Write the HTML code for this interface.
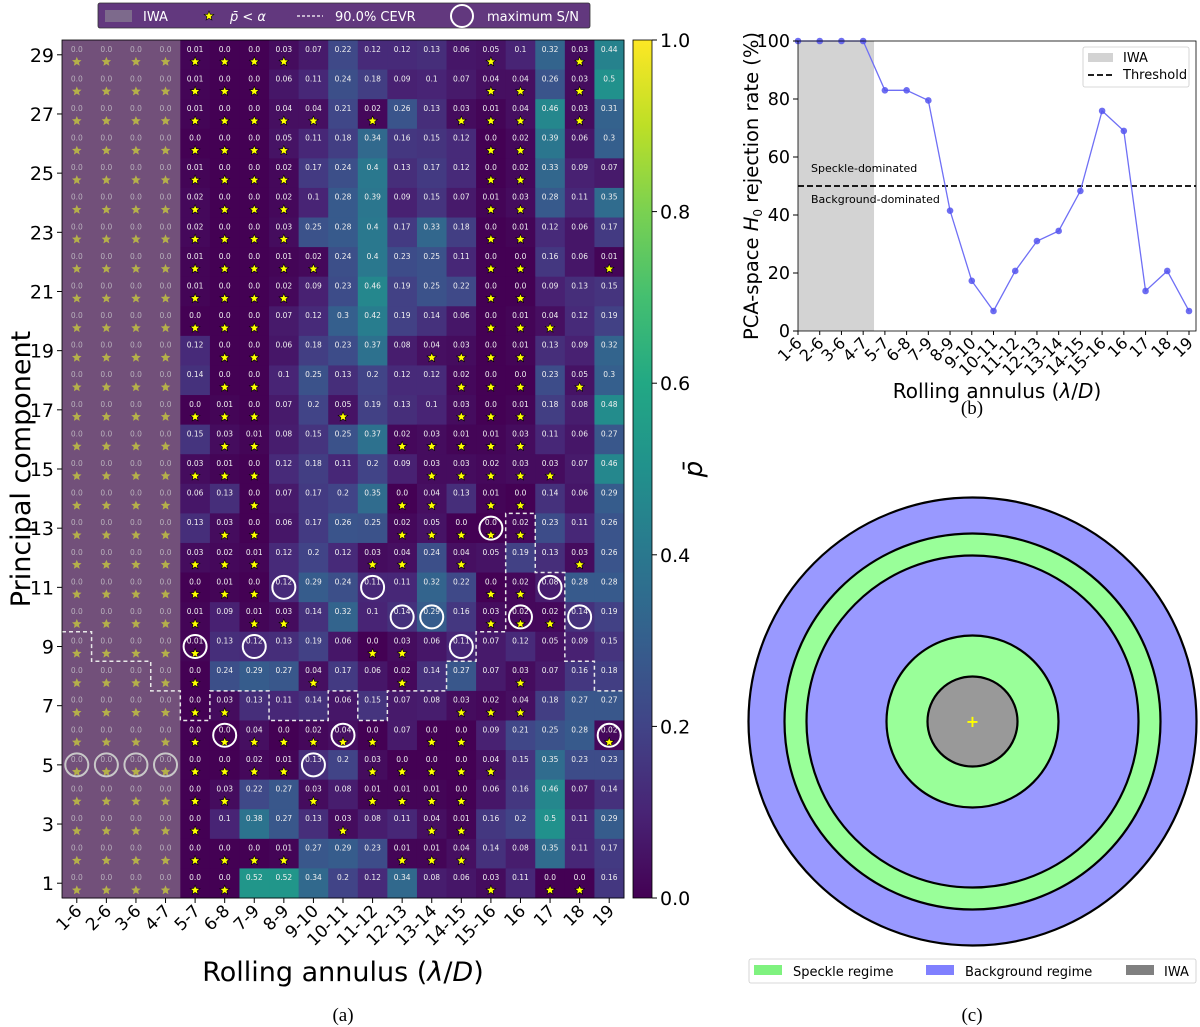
<!DOCTYPE html>
<html><head><meta charset="utf-8"><style>
body{margin:0;background:#fff;}
svg{display:block;font-family:"DejaVu Sans","Liberation Sans",sans-serif;}
</style></head><body>
<svg id="fig" width="1200" height="1027" viewBox="0 0 1200 1027" xmlns="http://www.w3.org/2000/svg"></svg>
<script>
// ---------- Data: heatmap (a) ----------
const colLabels = ["1-6","2-6","3-6","4-7","5-7","6-8","7-9","8-9","9-10","10-11","11-12","12-13","13-14","14-15","15-16","16","17","18","19"];
const rowLabels = [29,28,27,26,25,24,23,22,21,20,19,18,17,16,15,14,13,12,11,10,9,8,7,6,5,4,3,2,1];
const iwaCols = 4;
// values for columns 5-7 .. 19 (rows 29 -> 1); IWA columns are 0.0
const pValues = [
[0.01,0.0,0.0,0.03,0.07,0.22,0.12,0.12,0.13,0.06,0.05,0.1,0.32,0.03,0.44],
[0.01,0.0,0.0,0.06,0.11,0.24,0.18,0.09,0.1,0.07,0.04,0.04,0.26,0.03,0.5],
[0.01,0.0,0.0,0.04,0.04,0.21,0.02,0.26,0.13,0.03,0.01,0.04,0.46,0.03,0.31],
[0.0,0.0,0.0,0.05,0.11,0.18,0.34,0.16,0.15,0.12,0.0,0.02,0.39,0.06,0.3],
[0.01,0.0,0.0,0.02,0.17,0.24,0.4,0.13,0.17,0.12,0.0,0.02,0.33,0.09,0.07],
[0.02,0.0,0.0,0.02,0.1,0.28,0.39,0.09,0.15,0.07,0.01,0.03,0.28,0.11,0.35],
[0.02,0.0,0.0,0.03,0.25,0.28,0.4,0.17,0.33,0.18,0.0,0.01,0.12,0.06,0.17],
[0.01,0.0,0.0,0.01,0.02,0.24,0.4,0.23,0.25,0.11,0.0,0.0,0.16,0.06,0.01],
[0.01,0.0,0.0,0.02,0.09,0.23,0.46,0.19,0.25,0.22,0.0,0.0,0.09,0.13,0.15],
[0.0,0.0,0.0,0.07,0.12,0.3,0.42,0.19,0.14,0.06,0.0,0.01,0.04,0.12,0.19],
[0.12,0.0,0.0,0.06,0.18,0.23,0.37,0.08,0.04,0.03,0.0,0.01,0.13,0.09,0.32],
[0.14,0.0,0.0,0.1,0.25,0.13,0.2,0.12,0.12,0.02,0.0,0.0,0.23,0.05,0.3],
[0.0,0.01,0.0,0.07,0.2,0.05,0.19,0.13,0.1,0.03,0.0,0.01,0.18,0.08,0.48],
[0.15,0.03,0.01,0.08,0.15,0.25,0.37,0.02,0.03,0.01,0.01,0.03,0.11,0.06,0.27],
[0.03,0.01,0.0,0.12,0.18,0.11,0.2,0.09,0.03,0.03,0.02,0.03,0.03,0.07,0.46],
[0.06,0.13,0.0,0.07,0.17,0.2,0.35,0.0,0.04,0.13,0.01,0.0,0.14,0.06,0.29],
[0.13,0.03,0.0,0.06,0.17,0.26,0.25,0.02,0.05,0.0,0.0,0.02,0.23,0.11,0.26],
[0.03,0.02,0.01,0.12,0.2,0.12,0.03,0.04,0.24,0.04,0.05,0.19,0.13,0.03,0.26],
[0.0,0.01,0.0,0.12,0.29,0.24,0.11,0.11,0.32,0.22,0.0,0.02,0.08,0.28,0.28],
[0.01,0.09,0.01,0.03,0.14,0.32,0.1,0.14,0.29,0.16,0.03,0.02,0.02,0.14,0.19],
[0.01,0.13,0.12,0.13,0.19,0.06,0.0,0.03,0.06,0.11,0.07,0.12,0.05,0.09,0.15],
[0.0,0.24,0.29,0.27,0.04,0.17,0.06,0.02,0.14,0.27,0.07,0.03,0.07,0.16,0.18],
[0.0,0.03,0.13,0.11,0.14,0.06,0.15,0.07,0.08,0.03,0.02,0.04,0.18,0.27,0.27],
[0.0,0.0,0.04,0.0,0.02,0.04,0.0,0.07,0.0,0.0,0.09,0.21,0.25,0.28,0.02],
[0.0,0.0,0.02,0.01,0.13,0.2,0.03,0.0,0.0,0.0,0.04,0.15,0.35,0.23,0.23],
[0.0,0.03,0.22,0.27,0.03,0.08,0.01,0.01,0.01,0.0,0.06,0.16,0.46,0.07,0.14],
[0.0,0.1,0.38,0.27,0.13,0.03,0.08,0.11,0.04,0.01,0.16,0.2,0.5,0.11,0.29],
[0.0,0.0,0.0,0.01,0.27,0.29,0.23,0.01,0.01,0.04,0.14,0.08,0.35,0.11,0.17],
[0.0,0.0,0.52,0.52,0.34,0.2,0.12,0.34,0.08,0.06,0.03,0.11,0.0,0.0,0.16]
];
const starThreshold = 0.05;
const noStarCells = [[12,14],[9,16]]; // [PC, column index]
const maxSN = [[13,14],[11,7],[11,10],[11,16],[10,11],[10,12],[10,15],[10,17],[9,4],[9,6],[9,13],[6,5],[6,9],[6,18],[5,8],[5,0],[5,1],[5,2],[5,3]];
// CEVR boundary as [column boundary, PC boundary]
const cevrPath = [[0,9],[1,9],[1,8],[3,8],[3,7],[4,7],[4,6],[5,6],[5,7],[7,7],[7,6],[9,6],[9,7],[10,7],[10,6],[11,6],[11,7],[13,7],[13,8],[14,8],[14,9],[15,9],[15,13],[16,13],[16,11],[17,11],[17,8],[18,8],[18,7],[19,7]];
const cbarTicks = [0,0.2,0.4,0.6,0.8,1.0];

// ---------- Data: panel (b) ----------
const bCats = colLabels;
const bRates = [100,100,100,100,83,83,79.5,41.5,17.3,6.9,20.7,31,34.5,48.3,75.9,69,13.8,20.7,6.9];
const bThreshold = 50;
const bYTicks = [0,20,40,60,80,100];

// ---------- Data: panel (c) ----------
const cRadii = [224,188,166,86,45];
const cFills = ["#9999ff","#99ff99","#9999ff","#99ff99","#999999"];

const NS="http://www.w3.org/2000/svg";
const svg=document.getElementById('fig');
function el(tag,attrs,parent,text){const e=document.createElementNS(NS,tag);for(const k in attrs)e.setAttribute(k,attrs[k]);if(text!==undefined)e.textContent=text;(parent||svg).appendChild(e);return e;}

const vir=["#440154","#482475","#414487","#355f8d","#2a788e","#21918c","#22a884","#44bf70","#7ad151","#bddf26","#fde725"];
function hex(h){return [1,3,5].map(i=>parseInt(h.substr(i,2),16));}
function viridis(v){v=Math.max(0,Math.min(1,v));const t=v*10,i=Math.min(9,Math.floor(t)),f=t-i;const a=hex(vir[i]),b=hex(vir[i+1]);return "rgb("+a.map((x,k)=>Math.round(x+(b[k]-x)*f)).join(",")+")";}

// ---------- Heatmap axes ----------
const HX0=62,HX1=624,HY0=40,HY1=898;
const cw=(HX1-HX0)/19, rh=(HY1-HY0)/29;
function hx(c){return HX0+c*cw;}
function hyB(b){return HY1-b*rh;}
function hyC(pc){return HY1-(pc-0.5)*rh;}
function fmt(v){return (Math.round(v*100)/100).toString().replace(/^(\d)$/,"$1.0");}
function starPath(cx,cy,r){let d="";for(let i=0;i<10;i++){const a=-Math.PI/2+i*Math.PI/5,rr=i%2?r*0.45:r;d+=(i?"L":"M")+(cx+rr*Math.cos(a)).toFixed(1)+","+(cy+rr*Math.sin(a)).toFixed(1);}return d+"Z";}

const gH=el('g',{});


rowLabels.forEach((pc,ri)=>{
  for(let c=0;c<19;c++){
    const v = c<iwaCols?0:pValues[ri][c-iwaCols];
    const r=el('rect',{x:hx(c),y:hyB(pc),width:cw+0.5,height:rh+0.5,fill:viridis(v)},gH);
    
    
  }
});
const iwa=el('rect',{x:HX0,y:HY0,width:cw*iwaCols,height:HY1-HY0,fill:"rgb(160,160,160)","fill-opacity":0.5},gH);


rowLabels.forEach((pc,ri)=>{
  for(let c=0;c<19;c++){
    const v = c<iwaCols?0:pValues[ri][c-iwaCols];
    const cx=hx(c)+cw/2, cy=hyC(pc);
    const inIwa=c<iwaCols;
    const t=el('text',{x:cx,y:cy-3,"text-anchor":"middle","font-size":7.5,fill:inIwa?"#b8b0bc":"#f0f0f0"},gH,fmt(v));
    
    
    const excluded=noStarCells.some(e=>e[0]===pc&&e[1]===c);
    if(v<=starThreshold && !excluded){
      const s=el('path',{d:starPath(cx,cy+7,5),fill:inIwa?"#b5b04a":"#ffff00",stroke:inIwa?"none":"#000","stroke-width":0.6},gH);
      
      
    }
  }
});
maxSN.forEach(m=>{
  const ci=el('circle',{cx:hx(m[1])+cw/2,cy:hyC(m[0]),r:11.5,fill:"none",stroke:m[1]<iwaCols?"#c8c8c8":"#fff","stroke-width":2},gH);
  
  
});
const cevr=el('path',{d:cevrPath.map((p,i)=>(i?"L":"M")+hx(p[0])+","+hyB(p[1])).join(""),fill:"none",stroke:"#e8e8e8","stroke-width":1.5,"stroke-dasharray":"4,3"},gH);


const hframe=el('rect',{x:HX0,y:HY0,width:HX1-HX0,height:HY1-HY0,fill:"none",stroke:"#000","stroke-width":0.8},gH);


rowLabels.forEach(pc=>{
  if(pc%2===1){
    el('line',{x1:HX0-5,x2:HX0,y1:hyC(pc),y2:hyC(pc),stroke:"#000"});
    const t=el('text',{x:HX0-8,y:hyC(pc)+7,"text-anchor":"end","font-size":19},svg,pc);
    
    
  }
});
colLabels.forEach((lab,c)=>{
  const x=hx(c)+cw/2;
  el('line',{x1:x,x2:x,y1:HY1,y2:HY1+5,stroke:"#000"});
  const t=el('text',{x:x+6,y:HY1+14,"text-anchor":"end","font-size":17,transform:"rotate(-45 "+(x+6)+" "+(HY1+14)+")"},svg,lab);
  
  
});
let t=el('text',{x:343,y:981,"text-anchor":"middle","font-size":27},svg);
t.innerHTML='Rolling annulus (<tspan font-style="italic">λ</tspan>/<tspan font-style="italic">D</tspan>)';


t=el('text',{x:0,y:0,"text-anchor":"middle","font-size":27,transform:"translate(30 469) rotate(-90)"},svg,"Principal component");


t=el('text',{x:343,y:1021,"text-anchor":"middle","font-size":19,"font-family":"Liberation Serif, serif"},svg,"(a)");



const lg=el('g',{});


el('rect',{x:98,y:3,width:492,height:25,fill:"#62387e",stroke:"#333","stroke-width":0.8,rx:2},lg);
el('rect',{x:105,y:10,width:27,height:12,fill:"#7d6a8c"},lg);
el('text',{x:143,y:21,"font-size":13,fill:"#fff"},lg,"IWA");
el('path',{d:starPath(209,16,5),fill:"#ff0",stroke:"#000","stroke-width":0.6},lg);
t=el('text',{x:230,y:21,"font-size":13,fill:"#fff","font-style":"italic"},lg);
t.innerHTML='p̄ &lt; α';
el('line',{x1:297,x2:323,y1:16,y2:16,stroke:"#fff","stroke-width":1.2,"stroke-dasharray":"3,2"},lg);
el('text',{x:335,y:21,"font-size":13,fill:"#fff"},lg,"90.0% CEVR");
el('circle',{cx:462,cy:16,r:11,fill:"none",stroke:"#fff","stroke-width":2},lg);
el('text',{x:487,y:21,"font-size":13,fill:"#fff"},lg,"maximum S/N");

const cb=el('g',{});


const defs=el('defs',{});
const grad=el('linearGradient',{id:"vg",x1:0,y1:1,x2:0,y2:0},defs);
vir.forEach((c,i)=>el('stop',{offset:(i/10),"stop-color":c},grad));
const CX0=633,CX1=652;
function cy(v){return HY1-v*(HY1-HY0);}
el('rect',{x:CX0,y:HY0,width:CX1-CX0,height:HY1-HY0,fill:"url(#vg)",stroke:"#000","stroke-width":0.8},cb);
cbarTicks.forEach(v=>{
  el('line',{x1:CX1,x2:CX1+5,y1:cy(v),y2:cy(v),stroke:"#000"},cb);
  const tt=el('text',{x:CX1+8,y:cy(v)+7,"font-size":19},cb,v.toFixed(1));
  
  
});
t=el('text',{x:0,y:0,"text-anchor":"middle","font-size":26,"font-style":"italic",transform:"translate(702 469) rotate(-90)"},svg,"p̄");



// ---------- Panel (b) ----------
const BX0=798,BX1=1196,BY0=41,BY1=331;
const bStep=(1189-798)/18;
function bx(i){return BX0+i*bStep;}
function by(v){return BY1-v/100*(BY1-BY0);}
const gb=el('g',{});


const iwaB=el('rect',{x:bx(0),y:BY0,width:bx(3.5)-bx(0),height:BY1-BY0,fill:"#d3d3d3"},gb);


const thr=el('line',{x1:BX0,x2:BX1,y1:by(bThreshold),y2:by(bThreshold),stroke:"#000","stroke-width":1.8,"stroke-dasharray":"6,3"},gb);


el('text',{x:811,y:172,"font-size":11},gb,"Speckle-dominated");
el('text',{x:811,y:203,"font-size":11},gb,"Background-dominated");
const line=el('polyline',{points:bRates.map((v,i)=>bx(i)+","+by(v)).join(" "),fill:"none",stroke:"#6f6ff5","stroke-width":1.3},gb);


bRates.forEach((v,i)=>{
  const p=el('circle',{cx:bx(i),cy:by(v),r:3.3,fill:"#5555ee","fill-opacity":0.85},gb);
  
  
});
el('rect',{x:BX0,y:BY0,width:BX1-BX0,height:BY1-BY0,fill:"none",stroke:"#000","stroke-width":0.8},gb);
bYTicks.forEach(v=>{
  el('line',{x1:BX0-5,x2:BX0,y1:by(v),y2:by(v),stroke:"#000"},gb);
  const tt=el('text',{x:BX0-8,y:by(v)+6,"text-anchor":"end","font-size":17.5},gb,v);
  
  
});
bCats.forEach((lab,i)=>{
  const x=bx(i);
  el('line',{x1:x,x2:x,y1:BY1,y2:BY1+4,stroke:"#000"},gb);
  const tt=el('text',{x:x+5,y:BY1+13,"text-anchor":"end","font-size":16,transform:"rotate(-45 "+(x+5)+" "+(BY1+13)+")"},gb,lab);
  
  
});
t=el('text',{x:997,y:398,"text-anchor":"middle","font-size":20},gb);
t.innerHTML='Rolling annulus (<tspan font-style="italic">λ</tspan>/<tspan font-style="italic">D</tspan>)';


t=el('text',{x:0,y:0,"text-anchor":"middle","font-size":19.5,transform:"translate(758 186) rotate(-90)"},gb);
t.innerHTML='PCA-space <tspan font-style="italic">H</tspan><tspan font-size="12" dy="4">0</tspan><tspan dy="-4"> rejection rate (%)</tspan>';


const bl=el('g',{},gb);


el('rect',{x:1083,y:47,width:106,height:40,fill:"#fff",stroke:"#ccc","stroke-width":0.8,rx:2},bl);
el('rect',{x:1088,y:53,width:25,height:9,fill:"#d3d3d3"},bl);
el('text',{x:1123,y:62,"font-size":13},bl,"IWA");
el('line',{x1:1088,x2:1113,y1:75,y2:75,stroke:"#000","stroke-width":1.8,"stroke-dasharray":"6,3"},bl);
el('text',{x:1123,y:79,"font-size":13},bl,"Threshold");
t=el('text',{x:972,y:414,"text-anchor":"middle","font-size":19,"font-family":"Liberation Serif, serif"},svg,"(b)");



// ---------- Panel (c) ----------
const gc=el('g',{});


cRadii.forEach((r,i)=>{
  const c=el('circle',{cx:972.5,cy:721.5,r:r,fill:cFills[i],stroke:"#000","stroke-width":2.2},gc);
  
  
});
el('text',{x:972.5,y:727,"text-anchor":"middle","font-size":16,"font-weight":"bold",fill:"#ffff00"},gc,"+");
const cl=el('g',{},gc);


el('rect',{x:749,y:959,width:447,height:24,fill:"#fff",stroke:"#ccc","stroke-width":0.8,rx:2},cl);
el('rect',{x:754,y:965,width:28,height:10,fill:"#7ff27f"},cl);
el('text',{x:793,y:976,"font-size":13},cl,"Speckle regime");
el('rect',{x:926,y:965,width:28,height:10,fill:"#8080ff"},cl);
el('text',{x:965,y:976,"font-size":13},cl,"Background regime");
el('rect',{x:1126,y:965,width:28,height:10,fill:"#808080"},cl);
el('text',{x:1164,y:976,"font-size":13},cl,"IWA");
t=el('text',{x:972,y:1021,"text-anchor":"middle","font-size":19,"font-family":"Liberation Serif, serif"},svg,"(c)");


</script>
</body></html>
